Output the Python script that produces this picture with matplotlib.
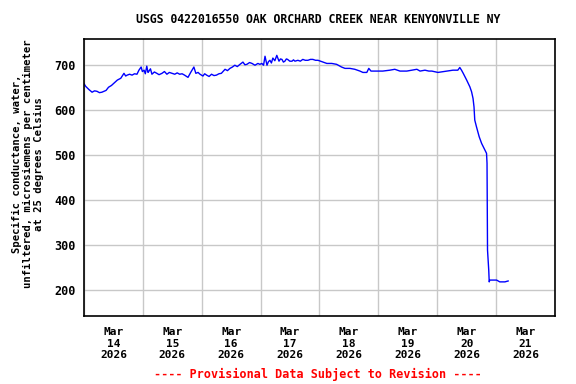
import numpy as np
import pandas as pd
import matplotlib
matplotlib.use("Agg")
import matplotlib.pyplot as plt
import matplotlib.dates as mdates

# hours after 2026-03-14 00:00 and specific conductance (uS/cm)
hours = [0, 0.7, 2, 3.3, 4.3, 5.3, 6.3, 7.3, 8.2, 9, 10, 11.2, 12.2, 13.6, 15, 16.3, 17.0,
         17.6, 18.6, 19.6, 20.6, 21.6, 22.4, 23.3, 23.8, 24.5, 25.0, 25.6, 26.1, 26.5, 27.1,
         27.7, 28.7, 29.7, 30.6, 31.8, 32.8, 33.8, 34.8, 35.9, 37, 38, 39, 40, 41, 42.4,
         43.5, 44.8, 45.6, 46.5, 47.3, 48.5, 49.2, 50, 51, 52, 53, 54, 55, 56, 57.5, 58.5,
         59.5, 60.5, 61.5, 62.5, 63.6, 64.8, 65.6, 66.4, 67.5, 68.5, 69.7, 70.9, 71.7, 72.5,
         73.2, 73.8, 74.6, 75.2, 75.8, 76.4, 77, 77.8, 78.6, 79.5, 80.1, 80.7, 81.3, 81.9,
         82.5, 83, 83.9, 84.8, 85.4, 86, 87.2, 88.2, 89.2, 90.2, 91.3, 92.3, 93.3, 94.4,
         95.4, 96.4, 97.4, 99, 101, 103, 105, 106.4, 108.4, 110.4, 112.5, 113.7, 115.3,
         116.1, 117, 119.4, 121.8, 124.7, 126.7, 128.8, 131.6, 133.7, 135.7, 137, 139,
         140.6, 141.8, 144.3, 147.9, 150.4, 152.4, 153.2, 153.9, 154.6, 156, 157.3, 158,
         158.6, 159, 159.3, 160, 161.1, 162.1, 163.1, 164.1, 164.3, 164.5, 165, 165.2,
         165.4, 168.2, 169.5, 171.6, 172.9]
values = [659, 653, 646, 640, 643, 642, 639, 640, 642, 644, 651, 655, 660, 667, 671, 682, 676,
          678, 680, 678, 681, 680, 689, 696, 686, 689, 681, 698, 684, 687, 692,
          680, 685, 682, 679, 682, 686, 680, 684, 682, 680, 683, 680, 681, 678, 673,
          684, 696, 682, 684, 680, 676, 681, 678, 675, 680, 677, 678, 681, 682, 691, 688,
          693, 696, 700, 697, 702, 707, 701, 702, 706, 704, 700, 704, 702, 704,
          700, 720, 700, 708, 711, 705, 716, 710, 722, 709, 714, 713, 707, 709,
          714, 713, 709, 709, 712, 709, 711, 709, 713, 711, 711, 713, 713, 711,
          711, 709, 707, 704, 704, 702, 696, 693, 693, 691, 687, 684, 684,
          693, 687, 687, 687, 689, 691, 687, 687, 689, 691, 687, 689,
          687, 687, 684, 687, 689, 689, 695, 689, 682, 667, 652, 641,
          626, 607, 578, 563, 541, 526, 515, 504, 482, 289, 244, 218,
          222, 222, 218, 218, 220]

xticklabels = ["Mar\n14\n2026", "Mar\n15\n2026", "Mar\n16\n2026", "Mar\n17\n2026",
               "Mar\n18\n2026", "Mar\n19\n2026", "Mar\n20\n2026", "Mar\n21\n2026"]
yticks = [200, 300, 400, 500, 600, 700]

start = pd.Timestamp("2026-03-14 00:00")
times = start + pd.to_timedelta(hours, unit="h")

plt.rcParams["font.family"] = "DejaVu Sans Mono"
plt.rcParams["font.weight"] = "bold"

fig = plt.figure(figsize=(5.76, 3.84), dpi=100)
ax = fig.add_axes([0.1458, 0.177, 0.8177, 0.721])

ax.plot(times, values, color="#0000ff", lw=1.0)

ax.set_xlim(start, start + pd.Timedelta(days=8))
ax.set_ylim(142, 758)

days = [start + pd.Timedelta(days=d) for d in range(9)]
noons = [start + pd.Timedelta(days=d, hours=12) for d in range(8)]
ax.set_xticks(days)
ax.set_xticklabels([])
ax.set_xticks(noons, minor=True)
ax.set_xticklabels(xticklabels, minor=True, fontsize=8, fontweight="bold", linespacing=1.2)
ax.set_yticks(yticks)
ax.set_yticklabels([str(v) for v in yticks], fontsize=8.5, fontweight="bold")
ax.tick_params(axis="both", which="both", length=0)
ax.tick_params(axis="x", which="minor", pad=8)
ax.tick_params(axis="y", pad=6)

ax.grid(True, which="major", color="#c8c8c8", lw=1)
for s in ax.spines.values():
    s.set_linewidth(1.2)
    s.set_color("black")

ax.set_ylabel("Specific conductance, water,\nunfiltered, microsiemens per centimeter\nat 25 degrees Celsius",
              fontsize=7.6, fontweight="bold", linespacing=1.15)
ax.yaxis.set_label_coords(-0.084, 0.55)

fig.text(0.552, 0.948, "USGS 0422016550 OAK ORCHARD CREEK NEAR KENYONVILLE NY",
         ha="center", va="center", fontsize=8.3, fontweight="bold")
fig.text(0.552, 0.024, "---- Provisional Data Subject to Revision ----",
         ha="center", va="center", fontsize=8.5, fontweight="bold", color="red")

fig.savefig("out.png", dpi=100)
